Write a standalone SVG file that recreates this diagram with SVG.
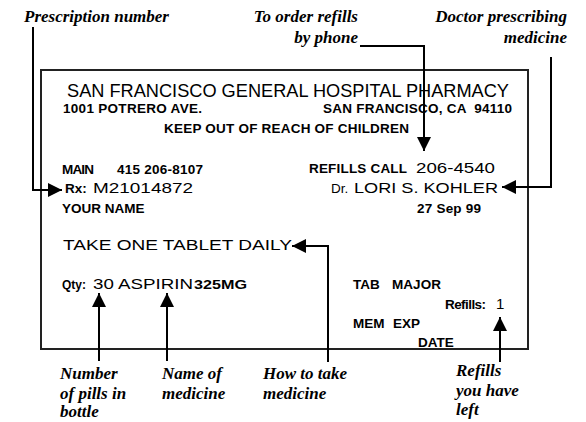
<svg xmlns="http://www.w3.org/2000/svg" width="586" height="422" viewBox="0 0 586 422">
<style>
.lbl{font-family:"Liberation Serif","Times New Roman",serif;font-style:italic;font-weight:bold;font-size:17px;fill:#000}
.big{font-family:"Liberation Sans",Arial,sans-serif;font-size:18px;fill:#000}
.b{font-family:"Liberation Sans",Arial,sans-serif;font-weight:bold;font-size:13.5px;fill:#000}
.r{font-family:"Liberation Sans",Arial,sans-serif;font-size:13.5px;fill:#000}
.w{font-family:"Liberation Sans",Arial,sans-serif;font-size:15px;fill:#000}
.con{fill:none;stroke:#000;stroke-width:2;marker-end:url(#ah)}
</style>
<defs>
<marker id="ah" markerUnits="userSpaceOnUse" markerWidth="15" markerHeight="15" refX="14" refY="7" orient="auto" viewBox="0 0 15 15">
<path d="M0,0 L14,7 L0,14 Z" fill="#000"/>
</marker>
</defs>
<rect width="586" height="422" fill="#fff"/>
<g id="label-card">
<rect x="41" y="70" width="487" height="279" fill="none" stroke="#222" stroke-width="2"/>
<text class="big" x="67" y="97" textLength="442" lengthAdjust="spacingAndGlyphs">SAN FRANCISCO GENERAL HOSPITAL PHARMACY</text>
<text class="b" x="63" y="113" textLength="139">1001 POTRERO AVE.</text>
<text class="b" x="323" y="113" textLength="189" xml:space="preserve">SAN FRANCISCO, CA  94110</text>
<text class="b" x="164" y="133" textLength="245">KEEP OUT OF REACH OF CHILDREN</text>
<text class="b" x="62" y="174" textLength="32">MAIN</text>
<text class="b" x="117" y="174" textLength="86">415 206-8107</text>
<text class="b" x="309" y="173" textLength="98">REFILLS CALL</text>
<text class="w" x="416" y="173" textLength="79" lengthAdjust="spacingAndGlyphs">206-4540</text>
<text class="b" x="65" y="193">Rx:</text>
<text class="w" x="93" y="193" textLength="100" lengthAdjust="spacingAndGlyphs">M21014872</text>
<text class="r" x="331" y="193">Dr.</text>
<text class="w" x="354" y="193" textLength="144" lengthAdjust="spacingAndGlyphs">LORI S. KOHLER</text>
<text class="b" x="62" y="213">YOUR NAME</text>
<text class="b" x="417" y="213" textLength="64">27 Sep 99</text>
<text class="w" x="63" y="250" textLength="229" lengthAdjust="spacingAndGlyphs">TAKE ONE TABLET DAILY</text>
<text class="b" x="62" y="289" style="font-size:12px">Qty:</text>
<text class="w" x="93" y="289" textLength="100" lengthAdjust="spacingAndGlyphs">30 ASPIRIN</text>
<text class="b" x="194" y="289" textLength="53" lengthAdjust="spacingAndGlyphs">325MG</text>
<text class="b" x="353" y="289">TAB</text>
<text class="b" x="392" y="289" textLength="49">MAJOR</text>
<text class="b" x="445" y="309" textLength="41">Refills:</text>
<text class="w" x="496" y="309">1</text>
<text class="b" x="353" y="328">MEM</text>
<text class="b" x="393" y="328">EXP</text>
<text class="b" x="418" y="347">DATE</text>
</g>
<g id="callout-labels">
<text class="lbl" x="24" y="22">Prescription number</text>
<text class="lbl" x="358" y="22" text-anchor="end">To order refills</text>
<text class="lbl" x="358" y="43" text-anchor="end">by phone</text>
<text class="lbl" x="567" y="22" text-anchor="end">Doctor prescribing</text>
<text class="lbl" x="567" y="43" text-anchor="end">medicine</text>
<text class="lbl" x="60" y="379">Number</text>
<text class="lbl" x="60" y="399">of pills in</text>
<text class="lbl" x="60" y="417">bottle</text>
<text class="lbl" x="162" y="379">Name of</text>
<text class="lbl" x="162" y="399">medicine</text>
<text class="lbl" x="263" y="379">How to take</text>
<text class="lbl" x="263" y="399">medicine</text>
<text class="lbl" x="456" y="376">Refills</text>
<text class="lbl" x="456" y="396">you have</text>
<text class="lbl" x="456" y="415">left</text>
</g>
<g id="connectors">
<path class="con" d="M33,27 V190 H62"/>
<path class="con" d="M360,46 H424 V151"/>
<path class="con" d="M551,57 V187 H502"/>
<path class="con" d="M328,362 V246 H292"/>
<path class="con" d="M99,361 V293"/>
<path class="con" d="M167,361 V293"/>
<path class="con" d="M500,362 V317"/>
</g>
</svg>
